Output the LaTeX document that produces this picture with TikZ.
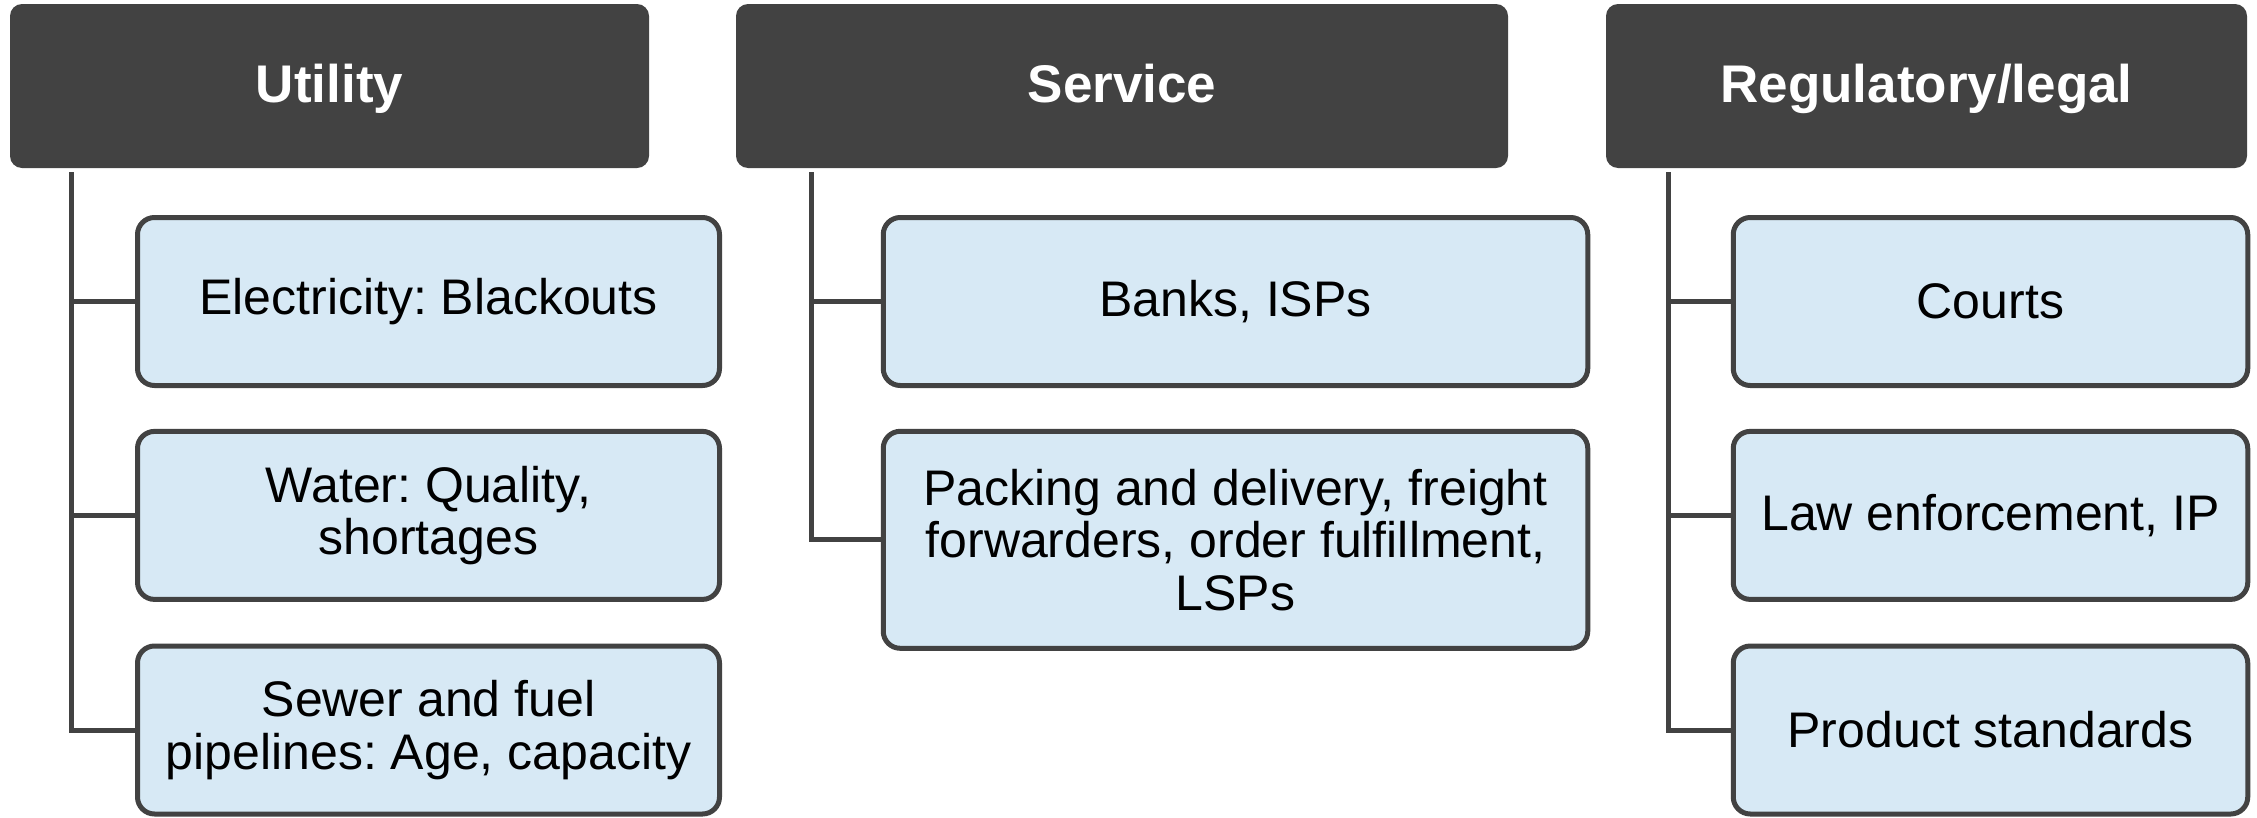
\documentclass[tikz,border=0pt]{standalone}
\usepackage{fontspec}
\setmainfont{Liberation Sans}
\usetikzlibrary{calc}
\definecolor{hdrgray}{HTML}{424242}
\definecolor{itemblue}{HTML}{D7E9F5}
\definecolor{linegray}{HTML}{424242}

\begin{document}
\frenchspacing
\begin{tikzpicture}[x=1pt,y=-1pt,
  header/.style={fill=hdrgray, rounded corners=12pt, minimum width=#1pt,
    minimum height=164pt, inner sep=0pt, outer sep=0pt, text=white,
    text height=40pt, text depth=8pt,
    font=\fontsize{53}{56}\selectfont\bfseries},
  item/.style={fill=itemblue, draw=linegray, line width=5pt,
    rounded corners=17pt, minimum width=#1pt, minimum height=168pt,
    inner sep=0pt, outer sep=0pt, align=center,
    font=\fontsize{50}{52.5}\selectfont},
  tree/.style={draw=linegray, line width=5pt, line join=miter}]

\useasboundingbox (0,0) rectangle (2257,817);

% category headers
\node[header=639] (U) at (329.5,86) {Utility};
\node[header=772] (S) at (1122,86) {Service};
\node[header=641] (R) at (1926.5,86) {Regulatory/legal};

% utility items
\node[item=582] (u1) at (428.5,301.5) {Electricity: Blackouts};
\node[item=582] (u2) at (428.5,515.4) {Water: Quality,\\shortages};
\node[item=582] (u3) at (428.5,730) {Sewer and fuel\\pipelines: Age, capacity};

% service items
\node[item=704.5] (s1) at (1235.5,301.5) {Banks, ISPs};
\node[item=704.5, minimum height=217pt] (s2) at (1235.5,539.8)
  {Packing and delivery, freight\\forwarders, order fulfillment,\\LSPs};

% regulatory items
\node[item=514.5] (r1) at (1990.5,301.5) {Courts};
\node[item=514.5] (r2) at (1990.5,515.4) {Law enforcement, IP};
\node[item=514.5] (r3) at (1990.5,730) {Product standards};

% tree connectors
\coordinate (ut) at ($(U.south west)+(61,4)$);
\coordinate (st) at ($(S.south west)+(75,4)$);
\coordinate (rt) at ($(R.south west)+(62,4)$);

\draw[tree] (ut) |- (u1.west);
\draw[tree] (ut) |- (u2.west);
\draw[tree] (ut) |- (u3.west);
\draw[tree] (st) |- (s1.west);
\draw[tree] (st) |- (s2.west);
\draw[tree] (rt) |- (r1.west);
\draw[tree] (rt) |- (r2.west);
\draw[tree] (rt) |- (r3.west);
\end{tikzpicture}
\end{document}
